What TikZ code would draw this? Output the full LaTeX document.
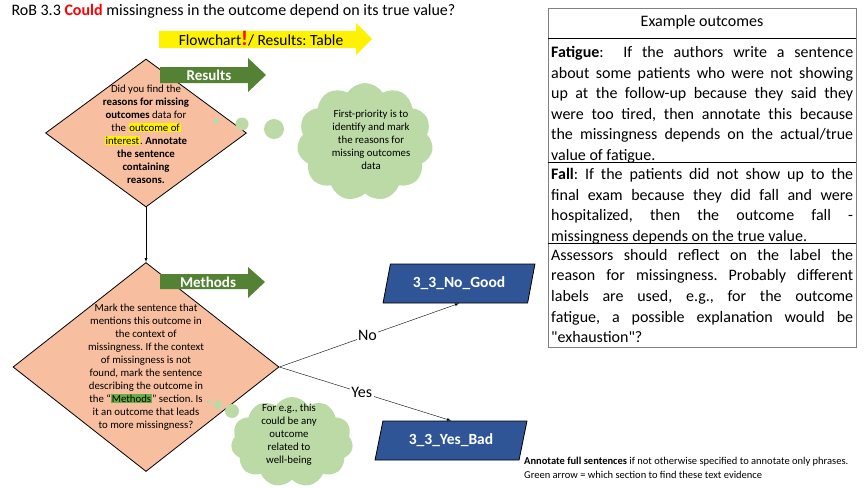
\documentclass[tikz,border=0pt]{standalone}
\usepackage{fontspec}
\setmainfont{Carlito}[Ligatures=TeXOff]
\usetikzlibrary{shapes.geometric,shapes.symbols}
\frenchspacing
\definecolor{salmon}{RGB}{247,190,160}
\definecolor{secgreen}{RGB}{84,130,53}
\definecolor{bubble}{RGB}{187,218,166}
\definecolor{outblue}{RGB}{47,85,151}
\definecolor{hlgreen}{RGB}{106,174,71}
\newcommand{\hly}[1]{{\setlength{\fboxsep}{0.8pt}\colorbox{yellow}{#1}}}
\newcommand{\hlg}[1]{{\setlength{\fboxsep}{0.8pt}\colorbox{hlgreen}{#1}}}
\tikzset{
    question/.style={diamond,draw,thick,fill=salmon,inner sep=0pt},
    qtext/.style={align=center,font=\fontsize{10.8}{13}\selectfont},
    thought/.style={cloud,cloud puffs=11,cloud puff arc=115,aspect=1.2,fill=bubble,inner sep=0pt},
    result/.style={trapezium,trapezium left angle=75,trapezium right angle=105,trapezium stretches=true,
                   draw,thick,fill=outblue,text=white,font=\fontsize{15.5}{18}\selectfont\bfseries,
                   minimum width=152pt,minimum height=39pt},
    lbl/.style={fill=white,inner sep=1.5pt,font=\fontsize{16}{19}\selectfont},
    secname/.style={text=white,font=\fontsize{15}{18}\selectfont\bfseries},
    cell/.style={text width=302pt,align=justify,inner sep=0pt,font=\fontsize{16}{20.6}\selectfont}
}
\begin{document}
\begin{tikzpicture}[x=1pt,y=-1pt]
        \useasboundingbox (0,0) rectangle (864,487);
        %title
        \node[anchor=base west,font=\fontsize{16}{19}\selectfont] (title) at (8,16)
            {RoB 3.3 \textcolor{red}{\textbf{Could}} missingness in the outcome depend on its true value?};
        %flowchart arrow
        \fill[yellow](159,31)--++(197,0)--++(0,-8)--++(16,16)--++(-16,16)--++(0,-7)--++(-197,0)--cycle;
        \node[anchor=base,font=\fontsize{15.5}{18}\selectfont] (flow) at (261,46)
            {Flowchart{\color{red}\bfseries\fontsize{21}{21}\selectfont!}/ Results: Table};
        %questions
        \node[question,minimum width=201pt,minimum height=148pt] (q1) at (146,133) {};
        \node[question,minimum width=266pt,minimum height=209pt] (q2) at (146,367) {};
        %green arrows
        \fill[secgreen](160,67)--++(88,0)--++(0,-9)--++(18,17)--++(-18,17)--++(0,-9)--++(-88,0)--cycle;
        \node[secname] (results) at (209,75) {Results};
        \fill[secgreen](160,274)--++(88,0)--++(0,-7)--++(17,15)--++(-17,16)--++(0,-9)--++(-88,0)--cycle;
        \node[secname] (methods) at (208,282) {Methods};
        %question texts
        \node[qtext] (q1text) at (146,134) {Did you find the\\ \textbf{reasons for missing}\\ \textbf{outcomes} data for\\
            the \hly{outcome of}\\ \hly{interest}. \textbf{Annotate}\\ \textbf{the sentence}\\ \textbf{containing}\\ \textbf{reasons.}};
        \node[qtext] (q2text) at (146,367) {Mark the sentence that\\ mentions this outcome in\\ the context of\\
            missingness. If the context\\ of missingness is not\\ found, mark the sentence\\ describing the outcome in\\
            the “\hlg{Methods}” section. Is\\ it an outcome that leads\\ to more missingness?};
        %thoughts
        \fill[bubble](216,121) circle (3pt);
        \fill[bubble](242,124) circle (6.5pt);
        \fill[bubble](274,129) circle (10pt);
        \node[thought,minimum width=136pt,minimum height=118pt] (c1) at (365,142) {};
        \node[qtext] (c1text) at (371,140) {First-priority is to\\ identify and mark\\ the reasons for\\ missing outcomes\\ data};
        \fill[bubble](209,402) circle (2pt);
        \fill[bubble](218,405) circle (4.5pt);
        \fill[bubble](232,411) circle (7pt);
        \node[thought,minimum width=122pt,minimum height=90pt] (c2) at (292,442) {};
        \node[qtext] (c2text) at (289,435) {For e.g., this\\ could be any\\ outcome\\ related to\\ well-being};
        %outcomes
        \node[result] (nogood) at (459,283.5) {3\_3\_No\_Good};
        \node[result] (yesbad) at (451,440.5) {3\_3\_Yes\_Bad};
        %arrows
        \draw[-latex](q1.south)--(q2.north);
        \draw[-latex](q2.east)-- node[lbl,pos=.49]{No} (nogood.south);
        \draw[-latex](q2.east)-- node[lbl,pos=.48]{Yes} (yesbad.north);
        %table
        \draw[gray](548,8) rectangle (856,347);
        \draw(548,38)--++(308,0);
        \draw(548,162)--++(308,0);
        \draw(548,243)--++(308,0);
        \node[font=\fontsize{16}{19}\selectfont] (tabhead) at (702,22) {Example outcomes};
        \node[cell,anchor=north west] (fatigue) at (551,46) {\textbf{Fatigue}:\ \ If the authors write a sentence\linebreak
            about some patients who were not showing\linebreak up at the follow-up because they said they\linebreak
            were too tired, then annotate this because\linebreak the missingness depends on the actual/true\linebreak value of fatigue.};
        \node[cell,anchor=north west] (fall) at (551,168) {\textbf{Fall}: If the patients did not show up to the\linebreak
            final exam because they did fall and were\linebreak hospitalized, then the outcome fall -\linebreak
            missingness depends on the true value.};
        \node[cell,anchor=north west] (assess) at (551,249) {Assessors should reflect on the label the\linebreak
            reason for missingness. Probably different\linebreak labels are used, e.g., for the outcome\linebreak
            fatigue, a possible explanation would be\linebreak "exhaustion"?};
        %note
        \node[anchor=north west,align=left,inner sep=0pt,font=\fontsize{10.5}{14}\selectfont] (note) at (524,457)
            {\textbf{Annotate full sentences} if not otherwise specified to annotate only phrases.\\
             Green arrow = which section to find these text evidence};
\end{tikzpicture}
\end{document}
